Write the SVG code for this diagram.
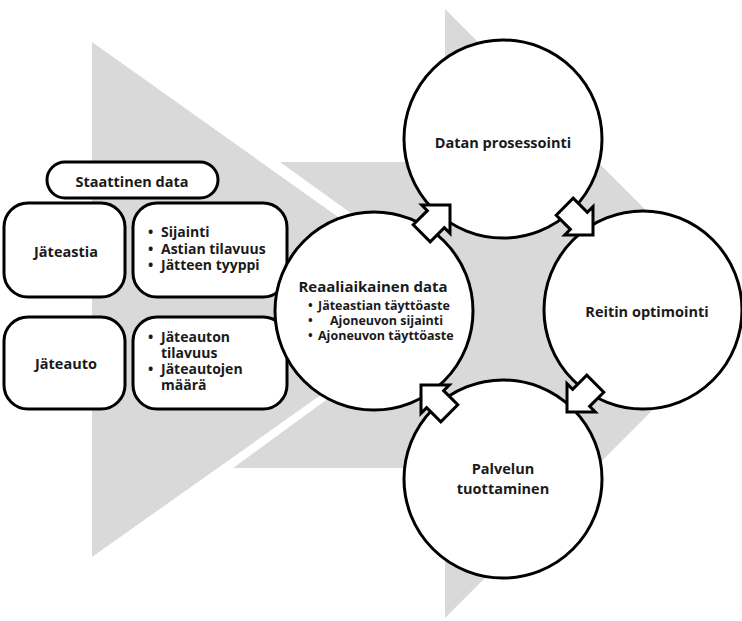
<svg xmlns="http://www.w3.org/2000/svg" width="742" height="621" viewBox="0 0 742 621">
<style>
.bg{fill:#d9d9d9;stroke:none}
.box{fill:#fff;stroke:#000;stroke-width:3}
.circ{fill:#fff;stroke:#000;stroke-width:3}
.arr{fill:#fff;stroke:#000;stroke-width:3;stroke-linejoin:miter}
text{font-family:"Open Sans","Noto Sans","DejaVu Sans",sans-serif;font-weight:700;fill:#1a1a1a}
.h{font-size:14.5px;text-anchor:middle}
.b{font-size:14px}
.s{font-size:12.5px}
</style>
<defs>
<path id="blk" d="M0,0 L-20,-20 L-20,-12 L-40,-12 L-40,12 L-20,12 L-20,20 Z"/>
</defs>
<g id="background">
<polygon class="bg" points="92,42 455,300 92,557"/>
<polygon class="bg" points="280,162 445,162 445,9 749,313.5 445,618 445,468 233,468 467,297"/>
</g>
<g id="staattinen">
<rect class="box" x="47" y="162" width="171" height="36" rx="18"/>
<text class="h" x="132" y="187">Staattinen data</text>
</g>
<g id="jateastia">
<rect class="box" x="4" y="203" width="121" height="94" rx="24"/>
<text class="h" x="66" y="257">Jäteastia</text>
</g>
<g id="jateastia-info">
<rect class="box" x="133" y="203" width="154" height="94" rx="24"/>
<text class="b"><tspan x="148" y="237">•</tspan><tspan x="161" y="237">Sijainti</tspan><tspan x="148" y="254">•</tspan><tspan x="161" y="254">Astian tilavuus</tspan><tspan x="148" y="270">•</tspan><tspan x="161" y="270">Jätteen tyyppi</tspan></text>
</g>
<g id="jateauto">
<rect class="box" x="4" y="317" width="121" height="92" rx="24"/>
<text class="h" x="66" y="369">Jäteauto</text>
</g>
<g id="jateauto-info">
<rect class="box" x="133" y="317" width="154" height="92" rx="24"/>
<text class="b"><tspan x="148" y="342">•</tspan><tspan x="161" y="342">Jäteauton</tspan><tspan x="161" y="358">tilavuus</tspan><tspan x="148" y="374">•</tspan><tspan x="161" y="374">Jäteautojen</tspan><tspan x="161" y="390">määrä</tspan></text>
</g>
<g id="reaaliaikainen">
<circle class="circ" cx="374" cy="311" r="99"/>
<text class="h" x="373" y="292" style="font-size:15px">Reaaliaikainen data</text>
<text class="s"><tspan x="308" y="310">•</tspan><tspan x="318" y="310">Jäteastian täyttöaste</tspan><tspan x="308" y="325">•</tspan><tspan x="330" y="325">Ajoneuvon sijainti</tspan><tspan x="308" y="340">•</tspan><tspan x="318" y="340">Ajoneuvon täyttöaste</tspan></text>
</g>
<g id="datan">
<circle class="circ" cx="503" cy="139" r="99"/>
<text class="h" x="503" y="148">Datan prosessointi</text>
</g>
<g id="reitin">
<circle class="circ" cx="643" cy="310" r="99"/>
<text class="h" x="647" y="317">Reitin optimointi</text>
</g>
<g id="palvelun">
<circle class="circ" cx="503" cy="479" r="99"/>
<text class="h" x="503" y="474">Palvelun</text>
<text class="h" x="503" y="494">tuottaminen</text>
</g>
<g id="connectors">
<use href="#blk" class="arr" transform="translate(450,205) rotate(-45)"/>
<use href="#blk" class="arr" transform="translate(593,235) rotate(45)"/>
<use href="#blk" class="arr" transform="translate(567,412) rotate(135)"/>
<use href="#blk" class="arr" transform="translate(421,385) rotate(-135)"/>
</g>
</svg>
